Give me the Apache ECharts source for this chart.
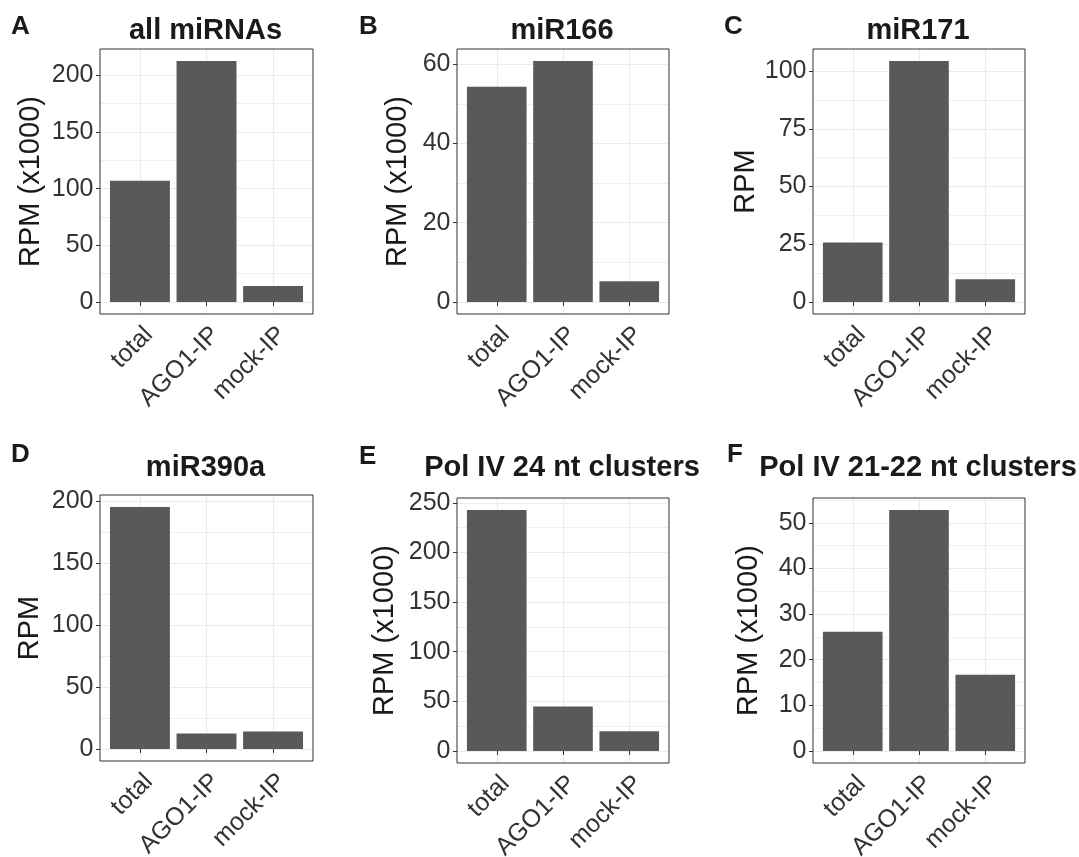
<!DOCTYPE html>
<html><head><meta charset="utf-8">
<script src="https://cdn.jsdelivr.net/npm/echarts@6/dist/echarts.min.js"></script>
<style>html,body{margin:0;padding:0;background:#fff}#c{width:1079px;height:857px}</style>
</head><body><div id="c"></div>
<script>
// ---- data ----
const categories = ['total', 'AGO1-IP', 'mock-IP'];
const allMiRNAs = [107, 212.6, 14];
const miR166 = [54.3, 60.8, 5.2];
const miR171 = [25.8, 104.4, 9.8];
const miR390a = [194.9, 12.4, 14];
const polIV24 = [242.7, 44.9, 19.8];
const polIV2122 = [26.1, 52.8, 16.7];

const yTicksA = [0, 50, 100, 150, 200];
const yTicksB = [0, 20, 40, 60];
const yTicksC = [0, 25, 50, 75, 100];
const yTicksD = [0, 50, 100, 150, 200];
const yTicksE = [0, 50, 100, 150, 200, 250];
const yTicksF = [0, 10, 20, 30, 40, 50];

const panelTitles = ['all miRNAs', 'miR166', 'miR171', 'miR390a', 'Pol IV 24 nt clusters', 'Pol IV 21-22 nt clusters'];
const panelLetters = ['A', 'B', 'C', 'D', 'E', 'F'];
const yNames = ['RPM (x1000)', 'RPM (x1000)', 'RPM', 'RPM', 'RPM (x1000)', 'RPM (x1000)'];

// ---- layout / style ----
const FONT = 'Liberation Sans, Arial, Helvetica, sans-serif';
const panels = [
  { values: allMiRNAs, ticks: yTicksA, box: { left: 100, top: 49, width: 213, height: 265 }, letter: { x: 11, y: 14 }, titleY: 16, nameGap: 55 },
  { values: miR166, ticks: yTicksB, box: { left: 457, top: 49, width: 212, height: 265 }, letter: { x: 359, y: 14 }, titleY: 16, nameGap: 45 },
  { values: miR171, ticks: yTicksC, box: { left: 813, top: 49, width: 212, height: 265 }, letter: { x: 724, y: 14 }, titleY: 16, nameGap: 50.5 },
  { values: miR390a, ticks: yTicksD, box: { left: 100, top: 495, width: 213, height: 266 }, letter: { x: 11, y: 442 }, titleY: 453, nameGap: 55.5 },
  { values: polIV24, ticks: yTicksE, box: { left: 457, top: 498, width: 212, height: 265 }, letter: { x: 359, y: 444 }, titleY: 453, nameGap: 58 },
  { values: polIV2122, ticks: yTicksF, box: { left: 813, top: 498, width: 212, height: 265 }, letter: { x: 727, y: 442 }, titleY: 453, nameGap: 49.5 }
];

const grid = [], xAxis = [], yAxis = [], series = [], title = [];
const catPos = categories.map((c, i) => i + 1);

panels.forEach((p, i) => {
  const vmax = Math.max(...p.values);
  const ymin = -0.05 * vmax, ymax = 1.05 * vmax;
  const step = p.ticks[1] - p.ticks[0];
  const minorVals = [];
  p.ticks.forEach(t => { minorVals.push(t); if (t + step / 2 < ymax) minorVals.push(t + step / 2); });

  grid.push(Object.assign({
    show: true, borderColor: '#333333', borderWidth: 1, backgroundColor: 'transparent', z: 3,
    containLabel: false, outerBoundsMode: 'none'
  }, p.box));

  xAxis.push({
    type: 'value', gridIndex: i, min: 0.4, max: 3.6,
    axisLine: { show: false },
    axisTick: { show: true, length: 4, lineStyle: { color: '#333333', width: 1 }, customValues: catPos },
    axisLabel: {
      customValues: catPos, rotate: 45, margin: 8, fontSize: 25, color: '#333333', fontFamily: FONT,
      align: 'right', verticalAlign: 'top',
      formatter: v => categories[Math.round(v) - 1] || ''
    },
    splitLine: { show: true, lineStyle: { color: '#EBEBEB', width: 1.2 } }
  });

  yAxis.push({
    type: 'value', gridIndex: i, min: ymin, max: ymax,
    name: yNames[i], nameLocation: 'middle', nameGap: p.nameGap,
    nameTextStyle: { fontSize: 29, color: '#1a1a1a', fontFamily: FONT },
    axisLine: { show: false },
    axisTick: { show: true, length: 4, lineStyle: { color: '#333333', width: 1 }, customValues: p.ticks },
    axisLabel: { customValues: p.ticks, margin: 6.5, fontSize: 25, color: '#333333', fontFamily: FONT },
    splitLine: { show: true, lineStyle: { color: '#EBEBEB', width: 1.2 } }
  });
  yAxis.push({
    type: 'value', gridIndex: i, min: ymin, max: ymax,
    axisLine: { show: false },
    axisTick: { show: false, customValues: minorVals },
    axisLabel: { show: false, customValues: minorVals },
    splitLine: { show: true, lineStyle: { color: '#EBEBEB', width: 0.8 } }
  });

  series.push({
    type: 'bar', xAxisIndex: i, yAxisIndex: 2 * i,
    data: p.values.map((v, k) => [catPos[k], v]),
    barWidth: '90%',
    itemStyle: { color: '#595959' },
    silent: true, animation: false
  });

  title.push({
    text: panelTitles[i], left: p.box.left + p.box.width / 2 - 1, top: p.titleY, textAlign: 'center', padding: 0,
    textStyle: { fontSize: 29, fontWeight: 'bold', color: '#1a1a1a', fontFamily: FONT, lineHeight: 29 }
  });
  title.push({
    text: panelLetters[i], left: p.letter.x, top: p.letter.y, padding: 0,
    textStyle: { fontSize: 26, fontWeight: 'bold', color: '#1a1a1a', fontFamily: FONT, lineHeight: 26 }
  });
});

const chart = echarts.init(document.getElementById('c'), null, { renderer: 'canvas' });
chart.setOption({ animation: false, backgroundColor: '#ffffff', title, grid, xAxis, yAxis, series });
</script></body></html>
